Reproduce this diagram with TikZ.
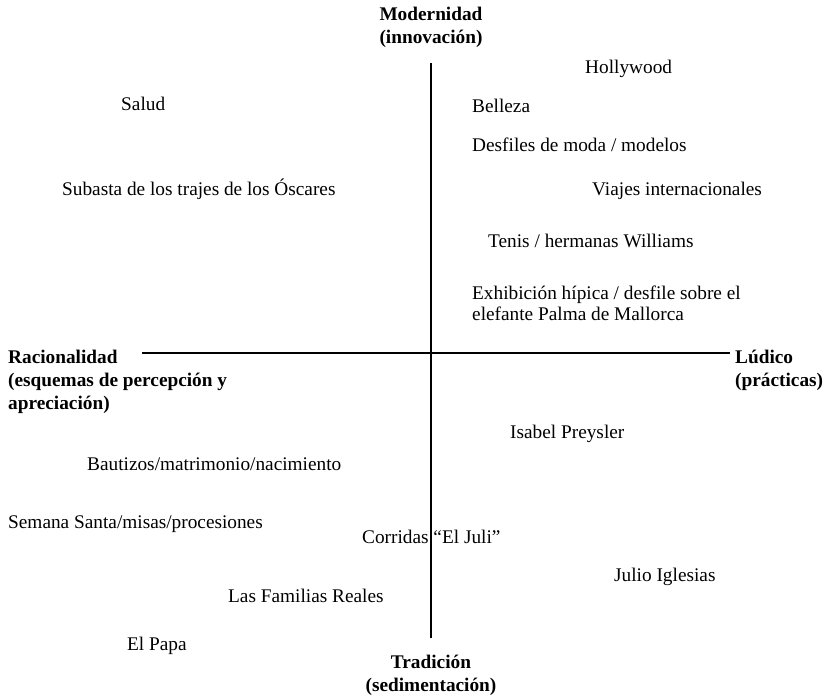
\documentclass[tikz,border=0pt]{standalone}
\usepackage{fontspec}
\setmainfont{Liberation Serif}
\begin{document}
\begin{tikzpicture}[x=1pt,y=-1pt,
  lbl/.style={inner sep=0pt,anchor=base west,font=\fontsize{19.3}{21}\selectfont,align=left},
  axislbl/.style={inner sep=0pt,font=\bfseries\fontsize{19.3}{23}\selectfont},
  axis/.style={line width=1.3pt}]
\useasboundingbox (0,0) rectangle (828,699);
% axes endpoints
\coordinate (top) at (431,63);
\coordinate (bot) at (431,638);
\coordinate (lft) at (142,353);
\coordinate (rgt) at (730,353);
\draw[axis] (top) -- (bot);
\draw[axis] (lft) -- (rgt);
% axis labels (anchor base = baseline of last line)
\node[axislbl,align=center,anchor=base] (mod) at (431,43) {Modernidad\\(innovación)};
\node[axislbl,align=center,anchor=base] (trad) at (431,691) {Tradición\\(sedimentación)};
\node[axislbl,align=left,anchor=base west] (rac) at (8,409) {Racionalidad\\(esquemas de percepción y\\apreciación)};
\node[axislbl,align=left,anchor=base west] (lud) at (735,386) {Lúdico\\(prácticas)};
% items
\node[lbl] (holly) at (585,73) {Hollywood};
\node[lbl] (salud) at (121,110) {Salud};
\node[lbl] (belleza) at (472,112) {Belleza};
\node[lbl] (desfiles) at (472,151) {Desfiles de moda / modelos};
\node[lbl] (subasta) at (62,195) {Subasta de los trajes de los Óscares};
\node[lbl] (viajes) at (592,195) {Viajes internacionales};
\node[lbl] (tenis) at (488,247) {Tenis / hermanas Williams};
\node[lbl] (exhib) at (472,320) {Exhibición hípica / desfile sobre el\\elefante Palma de Mallorca};
\node[lbl] (isabel) at (510,438) {Isabel Preysler};
\node[lbl] (bautizos) at (87,470) {Bautizos/matrimonio/nacimiento};
\node[lbl] (semana) at (8,528) {Semana Santa/misas/procesiones};
\node[lbl] (corridas) at (362,543) {Corridas “El Juli”};
\node[lbl] (julio) at (614,581) {Julio Iglesias};
\node[lbl] (familias) at (228,602) {Las Familias Reales};
\node[lbl] (papa) at (127,650) {El Papa};
\end{tikzpicture}
\end{document}
